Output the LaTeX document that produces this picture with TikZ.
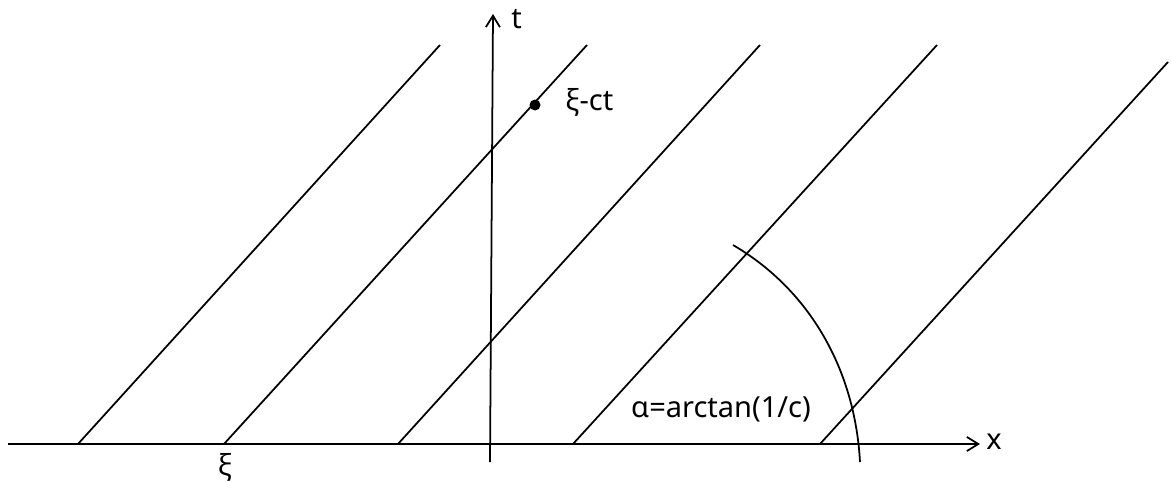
\documentclass[tikz,border=0pt]{standalone}
\usepackage{fontspec}
\setmainfont{Noto Sans}
\usepackage{tikz}
\usetikzlibrary{arrows.meta,positioning,calc}
\definecolor{WaveInk}{HTML}{000000}

\tikzset{
  charline/.style={draw=WaveInk, line width=1pt},
  axisline/.style={draw=WaveInk, line width=1pt, -{Straight Barb[length=6.5pt,width=8pt]}},
  lbl/.style={font=\fontsize{16.5}{19}\selectfont, text=WaveInk, inner sep=0pt}
}

\begin{document}
\begin{tikzpicture}[x=0.02cm, y=-0.02cm, every node/.style={align=center}]
  \useasboundingbox (0,0) rectangle (1171,481);
  % axes
  \coordinate (xl) at (8,444);
  \coordinate (xr) at (980,444);
  \coordinate (tb) at (490,462);
  \coordinate (tt) at (493,14);
  \draw[axisline] (xl) -- (xr);
  \draw[axisline] (tb) -- (tt);
  \node[lbl, anchor=west] (xlab) at (986,442) {x};
  \node[lbl, anchor=west] (tlab) at (511,19) {t};
  % characteristics
  \coordinate (b1) at (78,444);   \coordinate (e1) at (440,45);
  \coordinate (b2) at (224,444);  \coordinate (e2) at (587,45);
  \coordinate (b3) at (398,444);  \coordinate (e3) at (760,45);
  \coordinate (b4) at (573,444);  \coordinate (e4) at (937,45);
  \coordinate (b5) at (820,444);  \coordinate (e5) at (1168,62);
  \foreach \i in {1,...,5}
    \draw[charline] (b\i) -- (e\i);
  \node[lbl] (xi) at (225,467) {ξ};
  \fill[WaveInk] (535,105) circle (5.5);
  \node[lbl, anchor=west] (xict) at (565,102) {ξ-ct};
  % angle
  \coordinate (atop) at (733,245);
  \coordinate (abot) at (860,462);
  \draw[charline] (atop) .. controls (810,290) and (855,370) .. (abot);
  \node[lbl] (alpha) at (721,409) {α=arctan(1/c)};
\end{tikzpicture}
\end{document}
